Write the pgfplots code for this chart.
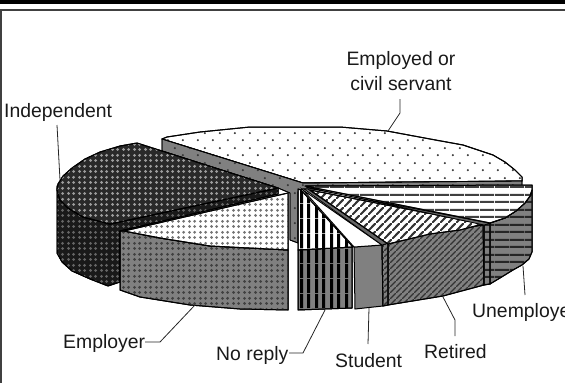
\documentclass[border=0pt]{standalone}
\usepackage{pgfplots}
\pgfplotsset{compat=1.18}
\usepackage{fontspec}
\setmainfont{Liberation Sans}
\usetikzlibrary{patterns}
\pgfdeclarepatternformonly{wdots}{\pgfqpoint{0pt}{0pt}}{\pgfqpoint{15pt}{15pt}}{\pgfqpoint{15pt}{15pt}}{%
  \pgfpathcircle{\pgfqpoint{3pt}{3pt}}{1.2pt}\pgfpathcircle{\pgfqpoint{10.5pt}{10.5pt}}{1.2pt}\pgfusepath{fill}}
\pgfdeclarepatternformonly{fdots}{\pgfqpoint{0pt}{0pt}}{\pgfqpoint{11pt}{11pt}}{\pgfqpoint{11pt}{11pt}}{%
  \pgfpathcircle{\pgfqpoint{2.75pt}{2.75pt}}{1.65pt}\pgfpathcircle{\pgfqpoint{8.25pt}{2.75pt}}{1.65pt}%
  \pgfpathcircle{\pgfqpoint{2.75pt}{8.25pt}}{1.65pt}\pgfpathcircle{\pgfqpoint{8.25pt}{8.25pt}}{1.65pt}\pgfusepath{fill}}
\pgfdeclarepatternformonly{vstr}{\pgfqpoint{0pt}{0pt}}{\pgfqpoint{15pt}{15pt}}{\pgfqpoint{15pt}{15pt}}{%
  \pgfpathrectangle{\pgfqpoint{0pt}{0pt}}{\pgfqpoint{3.2pt}{15pt}}\pgfpathrectangle{\pgfqpoint{7.5pt}{0pt}}{\pgfqpoint{3.2pt}{15pt}}\pgfusepath{fill}}
\pgfdeclarepatternformonly{hstr}{\pgfqpoint{0pt}{0pt}}{\pgfqpoint{15pt}{15pt}}{\pgfqpoint{15pt}{15pt}}{%
  \pgfpathrectangle{\pgfqpoint{0pt}{0pt}}{\pgfqpoint{15pt}{2.2pt}}\pgfpathrectangle{\pgfqpoint{0pt}{7.5pt}}{\pgfqpoint{15pt}{2.2pt}}\pgfusepath{fill}}
\pgfdeclarepatternformonly{diag}{\pgfqpoint{0pt}{0pt}}{\pgfqpoint{8pt}{8pt}}{\pgfqpoint{8pt}{8pt}}{%
  \pgfsetlinewidth{2.3pt}\pgfpathmoveto{\pgfqpoint{-1pt}{-1pt}}\pgfpathlineto{\pgfqpoint{9pt}{9pt}}\pgfusepath{stroke}}
\pgfdeclarepatternformonly{diagf}{\pgfqpoint{0pt}{0pt}}{\pgfqpoint{6pt}{6pt}}{\pgfqpoint{6pt}{6pt}}{%
  \pgfsetlinewidth{1.5pt}\pgfpathmoveto{\pgfqpoint{-1pt}{-1pt}}\pgfpathlineto{\pgfqpoint{7pt}{7pt}}\pgfusepath{stroke}}
\definecolor{gb}{HTML}{808080}
\tikzset{
 face/.style n args={3}{draw=black,line width=1pt,line join=round,fill=#1,postaction={pattern=#2,pattern color=#3}},
 lead/.style={draw=black!85,line width=0.8pt}
}
\begin{document}
\begin{tikzpicture}[x=1pt,y=1pt]
\path[use as bounding box] (0,0) rectangle (565,383);
\clip (0,0) rectangle (565,383);
\begin{axis}[at={(0,0)},anchor=south west,width=565pt,height=383pt,scale only axis,
  xmin=0,xmax=565,ymin=0,ymax=383,y dir=reverse,axis lines=none,clip=false,
  nodes={font=\fontsize{19.4}{22}\selectfont,text=black!90,inner sep=0pt}]
% frame
\addplot[fill=black,draw=none] coordinates {(0,0)(565,0)(565,4)(0,4)} -- cycle;
\addplot[fill=black!75,draw=none] coordinates {(0,9)(565,9)(565,11)(0,11)} -- cycle;
\addplot[fill=black!75,draw=none] coordinates {(0,9)(1.8,9)(1.8,383)(0,383)} -- cycle;
% Employed top
\addplot[face={white}{wdots}{black!80}] coordinates {(303,183)(162,139)(167,137)(200,132)(250,127)(290,127)(340,127)(387,131)(430,139)(463,145)(493,155)(505,162)(515,170)(522,177)(522,181)} -- cycle;
% Employed inner faces
\addplot[face={gb}{wdots}{black!80},line width=0.8pt] coordinates {(162,139)(303,183)(522,181)(522,187)(302,189)(298,192)(298,243)(290,240)(290,193)(278,188)(162,151)} -- cycle;
% Independent side
\addplot[face={black!90}{fdots}{black!60}] coordinates {(57,186)(57,253)(62,262)(72,271)(90,279)(108,286)(120,282)(120,231)(278,194)(278,188)(110,224)(83,217)(68,208)(60,200)} -- cycle;
% Independent top
\addplot[face={black!84}{fdots}{black!38}] coordinates {(278,188)(137,143)(120,146)(100,152)(85,159)(72,168)(63,176)(58,184)(57,190)(60,200)(68,208)(83,217)(110,224)} -- cycle;
% Employer side
\addplot[face={gb}{fdots}{black!75}] coordinates {(120,231)(120,290)(140,297)(190,305)(240,309)(288,310)(288,250)(210,246)(160,238)(124,231)} -- cycle;
% Employer top
\addplot[face={white}{fdots}{black!55}] coordinates {(124,231)(288,193)(288,250)(210,246)(160,238)} -- cycle;
% No reply side
\addplot[face={gb}{vstr}{black}] coordinates {(298,250)(298,310)(352,308)(352,247)} -- cycle;
% No reply top
\addplot[face={white}{vstr}{black}] coordinates {(298,189)(301,190)(353,247)(298,250)} -- cycle;
% Student side
\addplot[draw=black,line width=1pt,fill=gb] coordinates {(354,247)(382,245)(383,306)(355,309)} -- cycle;
% Student top
\addplot[draw=black,line width=1pt,fill=white] coordinates {(303,190)(354,247)(382,245)} -- cycle;
% Retired inner
\addplot[face={gb}{diagf}{black!80}] coordinates {(382,245)(388,243)(388,305)(383,306)} -- cycle;
\addplot[draw=black,line width=0.8pt,fill=black!60] coordinates {(304,189)(382,245)(388,243)(308,189)} -- cycle;
% Retired side
\addplot[face={gb}{diagf}{black!80}] coordinates {(388,244)(430,233)(483,225)(484,285)(443,296)(388,305)} -- cycle;
% Retired top
\addplot[face={white}{diag}{black!80}] coordinates {(310,190)(483,224)(460,230)(430,234)(388,244)} -- cycle;
% Unemployed inner
\addplot[face={gb}{hstr}{black!85}] coordinates {(484,225)(490,223)(490,284)(484,285)} -- cycle;
\addplot[draw=black,line width=0.8pt,fill=black!60] coordinates {(306,187)(312,189)(490,223)(484,225)} -- cycle;
% Unemployed side
\addplot[face={gb}{hstr}{black!85}] coordinates {(490,223)(505,218)(516,211)(525,203)(530,196)(532,190)(532,252)(529,259)(522,265)(513,270)(500,278)(490,284)} -- cycle;
% Unemployed top
\addplot[face={white}{hstr}{black!75}] coordinates {(305,186)(532,185)(532,190)(530,196)(525,203)(516,211)(505,218)(490,223)} -- cycle;
% leaders
\addplot[lead] coordinates {(57,125)(60,180)};
\addplot[lead] coordinates {(400,99)(400,113)(388,131)};
\addplot[lead] coordinates {(145,342)(160,342)(195,305)};
\addplot[lead] coordinates {(289,353)(303,353)(325,310)};
\addplot[lead] coordinates {(368,344)(369,308)};
\addplot[lead] coordinates {(455,336)(455,320)(443,297)};
\addplot[lead] coordinates {(525,295)(523,266)};
% labels
\node[anchor=base] at (axis cs:401,65.5) {Employed or};
\node[anchor=base] at (axis cs:401,90.5) {civil servant};
\node[anchor=base west] at (axis cs:4,117) {Independent};
\node[anchor=base west] at (axis cs:63,348) {Employer};
\node[anchor=base west] at (axis cs:216,360) {No reply};
\node[anchor=base west] at (axis cs:335,367) {Student};
\node[anchor=base west] at (axis cs:424,358) {Retired};
\node[anchor=base west] at (axis cs:472,317) {Unemployed};
\end{axis}
\end{tikzpicture}
\end{document}
